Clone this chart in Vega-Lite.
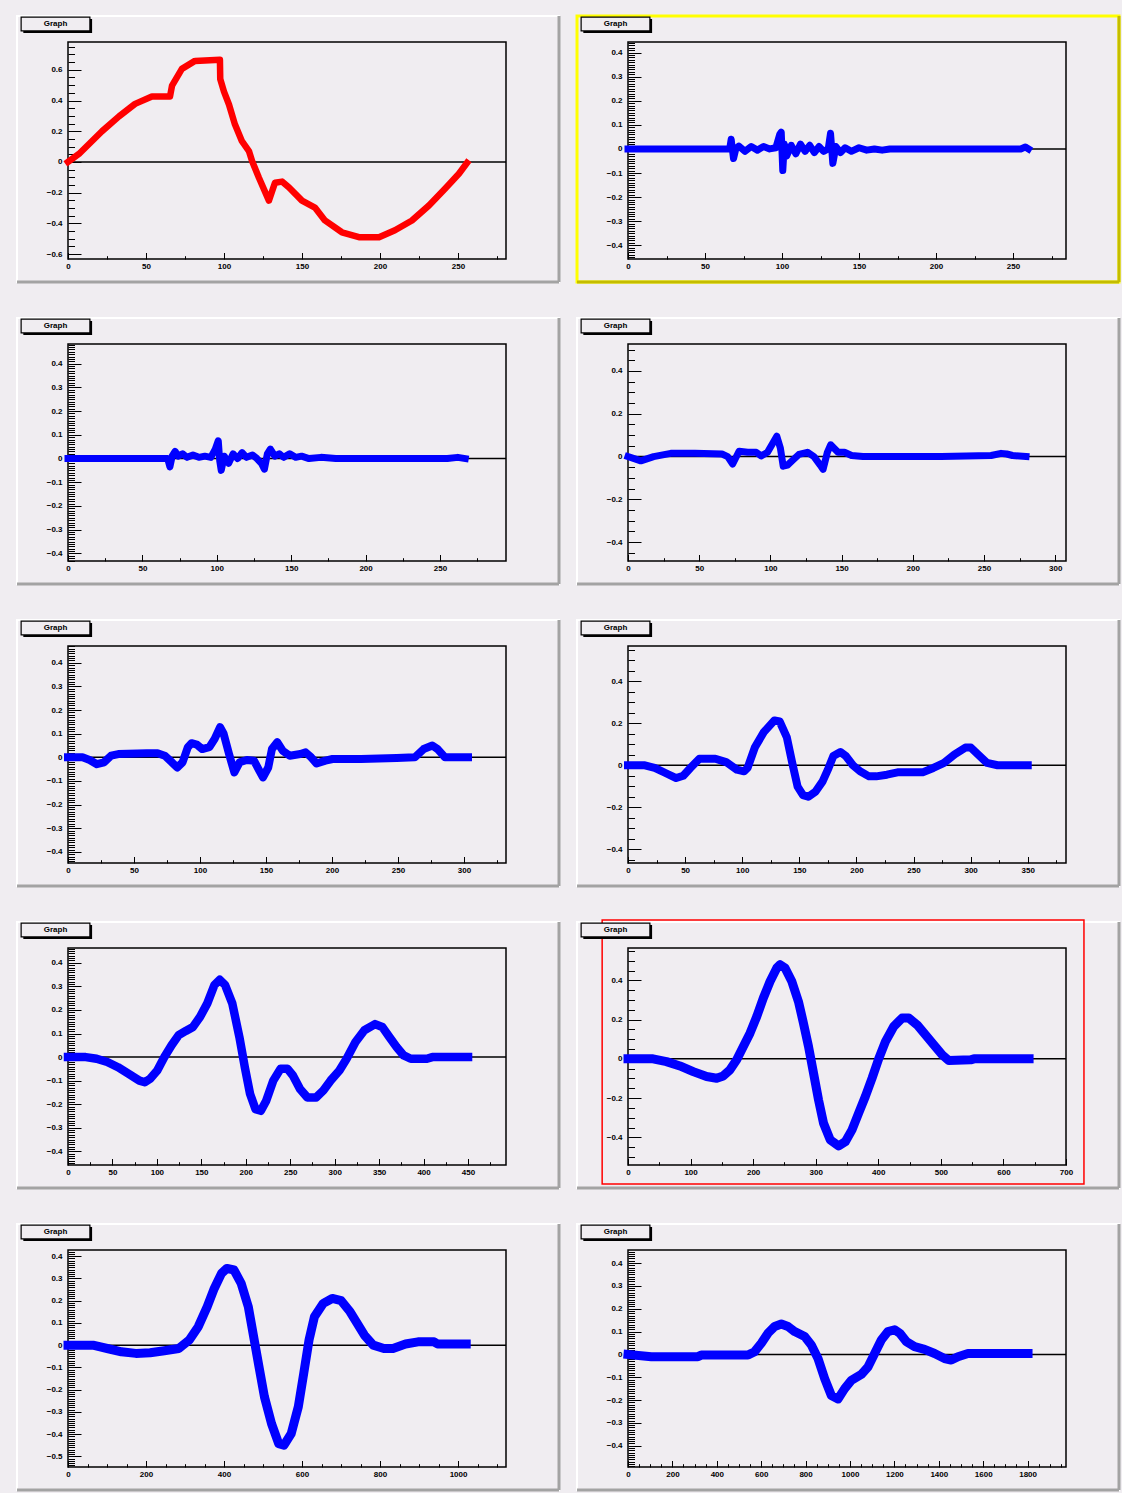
{
"$schema": "https://vega.github.io/schema/vega-lite/v6.json",
"background": "#f0edf1",
"padding": {"left": 14, "top": 13, "right": 0, "bottom": 0},
"columns": 2,
"bounds": "flush",
"spacing": {"row": 85, "column": 122},
"datasets": {
"p1": [{"x":0,"y":0},{"x":7,"y":0.052},{"x":21.8,"y":0.2},{"x":32.7,"y":0.297},{"x":43,"y":0.378},{"x":53.8,"y":0.426},{"x":65.4,"y":0.426},{"x":66.7,"y":0.497},{"x":73,"y":0.606},{"x":81.4,"y":0.658},{"x":97.4,"y":0.665},{"x":97.6,"y":0.54},{"x":100,"y":0.458},{"x":103.2,"y":0.374},{"x":107,"y":0.245},{"x":111.5,"y":0.135},{"x":116,"y":0.071},{"x":118,"y":0.006},{"x":122.4,"y":-0.103},{"x":128.8,"y":-0.252},{"x":132.7,"y":-0.135},{"x":137.2,"y":-0.128},{"x":141.7,"y":-0.166},{"x":150,"y":-0.252},{"x":158.3,"y":-0.297},{"x":164.7,"y":-0.381},{"x":175.6,"y":-0.458},{"x":186.5,"y":-0.49},{"x":199.4,"y":-0.49},{"x":209.6,"y":-0.445},{"x":220.5,"y":-0.381},{"x":231.4,"y":-0.284},{"x":241.7,"y":-0.174},{"x":250.6,"y":-0.077},{"x":255.8,"y":-0.006}],
"p2": [{"x":0,"y":0},{"x":30,"y":0},{"x":60,"y":0},{"x":66,"y":0},{"x":67,"y":0.04},{"x":68.5,"y":-0.04},{"x":70,"y":0},{"x":72,"y":0.012},{"x":76,"y":-0.01},{"x":80,"y":0.01},{"x":84,"y":-0.005},{"x":88,"y":0.01},{"x":92,"y":0},{"x":96,"y":0.005},{"x":98.5,"y":0.06},{"x":99.5,"y":0.07},{"x":100.5,"y":-0.09},{"x":101.5,"y":0.02},{"x":103,"y":-0.03},{"x":106,"y":0.015},{"x":109,"y":-0.02},{"x":112,"y":0.02},{"x":115,"y":-0.01},{"x":118,"y":0.015},{"x":121,"y":-0.015},{"x":124,"y":0.01},{"x":127,"y":-0.01},{"x":130,"y":0},{"x":131.5,"y":0.065},{"x":133,"y":-0.06},{"x":135,"y":0.01},{"x":138,"y":-0.015},{"x":141,"y":0.005},{"x":145,"y":-0.01},{"x":150,"y":0.005},{"x":155,"y":-0.005},{"x":160,"y":0},{"x":165,"y":-0.005},{"x":170,"y":0},{"x":200,"y":0},{"x":230,"y":0},{"x":255,"y":0},{"x":258,"y":0.008},{"x":260,"y":0}],
"p3": [{"x":0,"y":0},{"x":20,"y":0},{"x":50,"y":0},{"x":67,"y":0},{"x":68.5,"y":-0.035},{"x":70,"y":0.01},{"x":72,"y":0.03},{"x":74,"y":0.01},{"x":77,"y":0.02},{"x":80,"y":0.005},{"x":84,"y":0.015},{"x":88,"y":0.005},{"x":92,"y":0.01},{"x":96,"y":0.005},{"x":99,"y":0.04},{"x":101,"y":0.075},{"x":102,"y":-0.01},{"x":103,"y":-0.05},{"x":105,"y":0.01},{"x":108,"y":-0.02},{"x":111,"y":0.02},{"x":114,"y":0},{"x":117,"y":0.025},{"x":120,"y":0.005},{"x":124,"y":0.015},{"x":127,"y":0},{"x":130,"y":-0.02},{"x":132,"y":-0.045},{"x":134,"y":0.02},{"x":136,"y":0.04},{"x":139,"y":0.01},{"x":142,"y":0.02},{"x":145,"y":0.005},{"x":149,"y":0.02},{"x":153,"y":0.005},{"x":157,"y":0.01},{"x":162,"y":0},{"x":170,"y":0.005},{"x":180,"y":0},{"x":200,"y":0},{"x":230,"y":0},{"x":255,"y":0},{"x":262,"y":0.005},{"x":267,"y":0}],
"p4": [{"x":0,"y":0},{"x":9,"y":-0.02},{"x":18,"y":0},{"x":30,"y":0.015},{"x":47,"y":0.015},{"x":66,"y":0.012},{"x":70,"y":0},{"x":73.5,"y":-0.035},{"x":78,"y":0.025},{"x":84,"y":0.02},{"x":90,"y":0.02},{"x":93.5,"y":0.003},{"x":98,"y":0.02},{"x":104.5,"y":0.095},{"x":107,"y":0.04},{"x":109,"y":-0.045},{"x":112,"y":-0.04},{"x":116,"y":-0.015},{"x":120,"y":0.01},{"x":126,"y":0.02},{"x":130.6,"y":0},{"x":135,"y":-0.04},{"x":137,"y":-0.06},{"x":140,"y":0.02},{"x":142.3,"y":0.055},{"x":147.5,"y":0.02},{"x":152,"y":0.02},{"x":157,"y":0.005},{"x":165,"y":0},{"x":180,"y":0},{"x":220,"y":0},{"x":255,"y":0.005},{"x":262,"y":0.015},{"x":266,"y":0.012},{"x":270,"y":0.005},{"x":279.5,"y":0}],
"p5": [{"x":0,"y":0},{"x":11,"y":0},{"x":16.4,"y":-0.011},{"x":21.9,"y":-0.029},{"x":27.3,"y":-0.021},{"x":32.7,"y":0.007},{"x":38.1,"y":0.014},{"x":59.8,"y":0.017},{"x":67.9,"y":0.017},{"x":73.3,"y":0.007},{"x":78.7,"y":-0.021},{"x":82.7,"y":-0.043},{"x":86.8,"y":-0.021},{"x":90.8,"y":0.043},{"x":93.6,"y":0.06},{"x":97.6,"y":0.054},{"x":101.7,"y":0.035},{"x":107.1,"y":0.043},{"x":111.1,"y":0.078},{"x":115.2,"y":0.128},{"x":117.9,"y":0.1},{"x":122,"y":0.014},{"x":126,"y":-0.064},{"x":130,"y":-0.021},{"x":135.5,"y":-0.011},{"x":140.9,"y":-0.014},{"x":145,"y":-0.057},{"x":147.7,"y":-0.085},{"x":151.7,"y":-0.043},{"x":154.5,"y":0.035},{"x":158.5,"y":0.064},{"x":162.6,"y":0.028},{"x":168,"y":0.007},{"x":176,"y":0.014},{"x":180,"y":0.021},{"x":184.2,"y":0},{"x":188.3,"y":-0.026},{"x":195,"y":-0.014},{"x":200.4,"y":-0.007},{"x":222,"y":-0.007},{"x":249,"y":-0.003},{"x":262.7,"y":0},{"x":269.4,"y":0.035},{"x":276,"y":0.05},{"x":280,"y":0.035},{"x":285.6,"y":0},{"x":303,"y":0}],
"p6": [{"x":0,"y":0},{"x":14,"y":0},{"x":23.4,"y":-0.013},{"x":32.8,"y":-0.037},{"x":42.2,"y":-0.061},{"x":48.4,"y":-0.05},{"x":54.6,"y":-0.013},{"x":62.5,"y":0.031},{"x":76.5,"y":0.031},{"x":85.9,"y":0.015},{"x":95.3,"y":-0.021},{"x":101.6,"y":-0.029},{"x":104.7,"y":-0.013},{"x":111,"y":0.084},{"x":118.7,"y":0.156},{"x":128.2,"y":0.213},{"x":132.8,"y":0.208},{"x":139.1,"y":0.132},{"x":143.8,"y":0.011},{"x":148.5,"y":-0.102},{"x":153.2,"y":-0.142},{"x":157.9,"y":-0.15},{"x":164.1,"y":-0.126},{"x":170.4,"y":-0.077},{"x":175,"y":-0.021},{"x":179.8,"y":0.044},{"x":186,"y":0.063},{"x":190.7,"y":0.044},{"x":196.9,"y":0},{"x":203.2,"y":-0.029},{"x":211,"y":-0.053},{"x":217.3,"y":-0.053},{"x":226.7,"y":-0.045},{"x":236,"y":-0.034},{"x":258,"y":-0.034},{"x":267.3,"y":-0.013},{"x":276.7,"y":0.011},{"x":286,"y":0.052},{"x":295.4,"y":0.084},{"x":300.2,"y":0.084},{"x":306.4,"y":0.052},{"x":314.3,"y":0.011},{"x":323.6,"y":0},{"x":350,"y":0}],
"p7": [{"x":0,"y":0},{"x":20,"y":0},{"x":32.2,"y":-0.007},{"x":44.2,"y":-0.021},{"x":56.2,"y":-0.043},{"x":68.3,"y":-0.071},{"x":80.3,"y":-0.1},{"x":86.4,"y":-0.107},{"x":92.4,"y":-0.092},{"x":100.4,"y":-0.057},{"x":108.4,"y":0},{"x":116.5,"y":0.05},{"x":124.5,"y":0.093},{"x":132.5,"y":0.111},{"x":140.6,"y":0.128},{"x":148.6,"y":0.171},{"x":156.7,"y":0.228},{"x":164.7,"y":0.306},{"x":170.7,"y":0.328},{"x":176.7,"y":0.306},{"x":184.8,"y":0.228},{"x":192.8,"y":0.085},{"x":198.9,"y":-0.043},{"x":204.8,"y":-0.156},{"x":210.9,"y":-0.221},{"x":216.9,"y":-0.228},{"x":223,"y":-0.185},{"x":230.9,"y":-0.1},{"x":239,"y":-0.05},{"x":247,"y":-0.05},{"x":253,"y":-0.078},{"x":261,"y":-0.135},{"x":269.2,"y":-0.171},{"x":279.2,"y":-0.171},{"x":287.2,"y":-0.142},{"x":295.3,"y":-0.1},{"x":305.3,"y":-0.057},{"x":313.4,"y":-0.007},{"x":323.4,"y":0.064},{"x":333.4,"y":0.114},{"x":345.4,"y":0.14},{"x":353.5,"y":0.128},{"x":361.5,"y":0.085},{"x":369.6,"y":0.043},{"x":377.6,"y":0.007},{"x":385.6,"y":-0.007},{"x":403.7,"y":-0.007},{"x":409.8,"y":0},{"x":450,"y":0}],
"p8": [{"x":0,"y":0},{"x":40,"y":0},{"x":61.5,"y":-0.014},{"x":82.9,"y":-0.036},{"x":104.2,"y":-0.065},{"x":125.6,"y":-0.09},{"x":141.7,"y":-0.099},{"x":152.2,"y":-0.087},{"x":163,"y":-0.056},{"x":173.7,"y":-0.005},{"x":184.3,"y":0.063},{"x":195,"y":0.131},{"x":205.8,"y":0.216},{"x":216.3,"y":0.31},{"x":227,"y":0.394},{"x":237.8,"y":0.463},{"x":243,"y":0.48},{"x":251,"y":0.463},{"x":261.9,"y":0.394},{"x":272.4,"y":0.292},{"x":280.4,"y":0.182},{"x":288.5,"y":0.063},{"x":296.5,"y":-0.073},{"x":304.5,"y":-0.209},{"x":312.5,"y":-0.328},{"x":323.2,"y":-0.413},{"x":336.5,"y":-0.444},{"x":347.3,"y":-0.422},{"x":358,"y":-0.362},{"x":368.6,"y":-0.277},{"x":379.3,"y":-0.192},{"x":390,"y":-0.099},{"x":400.6,"y":0},{"x":411.4,"y":0.088},{"x":424.7,"y":0.165},{"x":438,"y":0.208},{"x":448.7,"y":0.208},{"x":462.2,"y":0.173},{"x":475.5,"y":0.122},{"x":488.8,"y":0.071},{"x":502.2,"y":0.02},{"x":512.8,"y":-0.009},{"x":547.6,"y":-0.005},{"x":552.9,"y":0},{"x":641,"y":0}],
"p9": [{"x":0,"y":0},{"x":64,"y":0},{"x":100.5,"y":-0.015},{"x":137,"y":-0.03},{"x":174,"y":-0.037},{"x":210.5,"y":-0.034},{"x":247,"y":-0.025},{"x":284,"y":-0.015},{"x":311,"y":0.023},{"x":334,"y":0.083},{"x":357,"y":0.173},{"x":375,"y":0.255},{"x":393.6,"y":0.323},{"x":407.4,"y":0.345},{"x":425.7,"y":0.338},{"x":444,"y":0.278},{"x":462.3,"y":0.173},{"x":476,"y":0.038},{"x":489.7,"y":-0.097},{"x":503.6,"y":-0.232},{"x":521.8,"y":-0.353},{"x":540.3,"y":-0.443},{"x":553.8,"y":-0.45},{"x":572.3,"y":-0.398},{"x":590.5,"y":-0.277},{"x":604.4,"y":-0.127},{"x":618,"y":0.023},{"x":631.8,"y":0.128},{"x":654.6,"y":0.188},{"x":677.4,"y":0.21},{"x":700.5,"y":0.2},{"x":723.3,"y":0.15},{"x":741.5,"y":0.098},{"x":760,"y":0.045},{"x":782.8,"y":0},{"x":810,"y":-0.015},{"x":833.3,"y":-0.015},{"x":865.4,"y":0.005},{"x":897.4,"y":0.015},{"x":938.5,"y":0.015},{"x":947.7,"y":0.005},{"x":1021,"y":0.005}],
"p10": [{"x":0,"y":0},{"x":105,"y":-0.01},{"x":315,"y":-0.01},{"x":330,"y":-0.003},{"x":540.5,"y":-0.003},{"x":570.5,"y":0.012},{"x":600.5,"y":0.049},{"x":630.6,"y":0.093},{"x":660.6,"y":0.122},{"x":690.7,"y":0.133},{"x":720.7,"y":0.122},{"x":750.8,"y":0.1},{"x":795.8,"y":0.078},{"x":825.8,"y":0.041},{"x":855.9,"y":-0.018},{"x":885.9,"y":-0.106},{"x":916,"y":-0.18},{"x":946,"y":-0.195},{"x":976,"y":-0.15},{"x":1006,"y":-0.114},{"x":1051,"y":-0.088},{"x":1081,"y":-0.055},{"x":1111,"y":0.004},{"x":1141,"y":0.063},{"x":1171,"y":0.1},{"x":1201,"y":0.108},{"x":1224,"y":0.093},{"x":1254,"y":0.056},{"x":1291,"y":0.034},{"x":1336,"y":0.022},{"x":1381,"y":0.004},{"x":1426,"y":-0.018},{"x":1456,"y":-0.025},{"x":1486.5,"y":-0.01},{"x":1531.5,"y":0.004},{"x":1802,"y":0.004}]
},
"concat": [
{"width": 438, "height": 217, "resolve": {"scale": {"x": "independent", "y": "independent"}},
 "layer": [
  {"data": {"values": [{}]}, "layer": [
   {"mark": {"type": "rect", "filled": false, "stroke": "#ffffff", "strokeWidth": 2}, "encoding": {"x": {"datum": -0.1164, "type": "quantitative", "scale": {"domain": [0, 1], "nice": false}, "axis": null}, "x2": {"datum": 1.121}, "y": {"datum": -0.106, "type": "quantitative", "scale": {"domain": [0, 1], "nice": false}, "axis": null}, "y2": {"datum": 1.12}}},
   {"mark": {"type": "rule", "stroke": "#a3a3a3", "strokeWidth": 3}, "encoding": {"x": {"datum": -0.1164, "type": "quantitative"}, "x2": {"datum": 1.121}, "y": {"datum": -0.106, "type": "quantitative"}}},
   {"mark": {"type": "rule", "stroke": "#a3a3a3", "strokeWidth": 3}, "encoding": {"x": {"datum": 1.121, "type": "quantitative"}, "y": {"datum": -0.106, "type": "quantitative"}, "y2": {"datum": 1.12}}},
   {"mark": {"type": "rect", "fill": "black"}, "encoding": {"x": {"datum": -0.102, "type": "quantitative"}, "x2": {"datum": 0.055}, "y": {"datum": 1.042, "type": "quantitative"}, "y2": {"datum": 1.106}}},
   {"mark": {"type": "rect", "fill": "#f0edf1", "stroke": "black", "strokeWidth": 1.2}, "encoding": {"x": {"datum": -0.107, "type": "quantitative"}, "x2": {"datum": 0.05}, "y": {"datum": 1.051, "type": "quantitative"}, "y2": {"datum": 1.115}}},
   {"mark": {"type": "text", "text": "Graph", "font": "Liberation Sans", "fontSize": 8, "fontWeight": "bold", "align": "center", "baseline": "middle", "color": "black"}, "encoding": {"x": {"datum": -0.0285, "type": "quantitative"}, "y": {"datum": 1.083, "type": "quantitative"}}}
  ]},
  {"layer": [
   {"data": {"values": [{}]}, "mark": {"type": "rule", "color": "black", "strokeWidth": 1.5}, "encoding": {"y": {"datum": 0, "type": "quantitative"}}},
   {"data": {"name": "p1"}, "mark": {"type": "line", "color": "#ff0000", "strokeWidth": 6.5, "strokeCap": "square", "strokeJoin": "round"},
    "encoding": {
     "x": {"field": "x", "type": "quantitative", "scale": {"domain": [0, 280.8], "nice": false}, "axis": {"orient": "bottom", "title": null, "values": [0,25,50,75,100,125,150,175,200,225,250,275], "labelExpr": "datum.value % 50 === 0 ? format(datum.value, 'd') : ''", "tickSize": {"condition": {"test": "datum.value % 50 === 0", "value": -6.5}, "value": -3.3}}},
     "y": {"field": "y", "type": "quantitative", "scale": {"domain": [-0.632, 0.781], "nice": false, "zero": false}, "axis": {"orient": "left", "title": null, "tickCount": 28, "labelExpr": "abs(round(datum.value*100)) % 20 === 0 ? format(datum.value, '.1~f') : ''", "tickSize": {"condition": {"test": "abs(round(datum.value*100)) % 20 === 0", "value": -13}, "value": -6.5}}}
    }}
  ]}
 ]},
{"width": 438, "height": 217, "resolve": {"scale": {"x": "independent", "y": "independent"}},
 "layer": [
  {"data": {"values": [{}]}, "layer": [
   {"mark": {"type": "rect", "filled": false, "stroke": "#ffff00", "strokeWidth": 3}, "encoding": {"x": {"datum": -0.1164, "type": "quantitative", "scale": {"domain": [0, 1], "nice": false}, "axis": null}, "x2": {"datum": 1.121}, "y": {"datum": -0.106, "type": "quantitative", "scale": {"domain": [0, 1], "nice": false}, "axis": null}, "y2": {"datum": 1.12}}},
   {"mark": {"type": "rule", "stroke": "#c4bc00", "strokeWidth": 3}, "encoding": {"x": {"datum": -0.1164, "type": "quantitative"}, "x2": {"datum": 1.121}, "y": {"datum": -0.106, "type": "quantitative"}}},
   {"mark": {"type": "rule", "stroke": "#c4bc00", "strokeWidth": 3}, "encoding": {"x": {"datum": 1.121, "type": "quantitative"}, "y": {"datum": -0.106, "type": "quantitative"}, "y2": {"datum": 1.12}}},
   {"mark": {"type": "rect", "fill": "black"}, "encoding": {"x": {"datum": -0.102, "type": "quantitative"}, "x2": {"datum": 0.055}, "y": {"datum": 1.042, "type": "quantitative"}, "y2": {"datum": 1.106}}},
   {"mark": {"type": "rect", "fill": "#f0edf1", "stroke": "black", "strokeWidth": 1.2}, "encoding": {"x": {"datum": -0.107, "type": "quantitative"}, "x2": {"datum": 0.05}, "y": {"datum": 1.051, "type": "quantitative"}, "y2": {"datum": 1.115}}},
   {"mark": {"type": "text", "text": "Graph", "font": "Liberation Sans", "fontSize": 8, "fontWeight": "bold", "align": "center", "baseline": "middle", "color": "black"}, "encoding": {"x": {"datum": -0.0285, "type": "quantitative"}, "y": {"datum": 1.083, "type": "quantitative"}}}
  ]},
  {"layer": [
   {"data": {"values": [{}]}, "mark": {"type": "rule", "color": "black", "strokeWidth": 1.5}, "encoding": {"y": {"datum": 0, "type": "quantitative"}}},
   {"data": {"name": "p2"}, "mark": {"type": "line", "color": "#0000ff", "strokeWidth": 7, "strokeCap": "square", "strokeJoin": "round"},
    "encoding": {
     "x": {"field": "x", "type": "quantitative", "scale": {"domain": [0, 284.4], "nice": false}, "axis": {"orient": "bottom", "title": null, "values": [0,25,50,75,100,125,150,175,200,225,250,275], "labelExpr": "datum.value % 50 === 0 ? format(datum.value, 'd') : ''", "tickSize": {"condition": {"test": "datum.value % 50 === 0", "value": -6.5}, "value": -3.3}}},
     "y": {"field": "y", "type": "quantitative", "scale": {"domain": [-0.457, 0.444], "nice": false, "zero": false}, "axis": {"orient": "left", "title": null, "tickCount": 90, "labelExpr": "abs(round(datum.value*100)) % 10 === 0 ? format(datum.value, '.1~f') : ''", "tickSize": {"condition": {"test": "abs(round(datum.value*100)) % 10 === 0", "value": -13}, "value": -6.5}}}
    }}
  ]}
 ]},
{"width": 438, "height": 217, "resolve": {"scale": {"x": "independent", "y": "independent"}},
 "layer": [
  {"data": {"values": [{}]}, "layer": [
   {"mark": {"type": "rect", "filled": false, "stroke": "#ffffff", "strokeWidth": 2}, "encoding": {"x": {"datum": -0.1164, "type": "quantitative", "scale": {"domain": [0, 1], "nice": false}, "axis": null}, "x2": {"datum": 1.121}, "y": {"datum": -0.106, "type": "quantitative", "scale": {"domain": [0, 1], "nice": false}, "axis": null}, "y2": {"datum": 1.12}}},
   {"mark": {"type": "rule", "stroke": "#a3a3a3", "strokeWidth": 3}, "encoding": {"x": {"datum": -0.1164, "type": "quantitative"}, "x2": {"datum": 1.121}, "y": {"datum": -0.106, "type": "quantitative"}}},
   {"mark": {"type": "rule", "stroke": "#a3a3a3", "strokeWidth": 3}, "encoding": {"x": {"datum": 1.121, "type": "quantitative"}, "y": {"datum": -0.106, "type": "quantitative"}, "y2": {"datum": 1.12}}},
   {"mark": {"type": "rect", "fill": "black"}, "encoding": {"x": {"datum": -0.102, "type": "quantitative"}, "x2": {"datum": 0.055}, "y": {"datum": 1.042, "type": "quantitative"}, "y2": {"datum": 1.106}}},
   {"mark": {"type": "rect", "fill": "#f0edf1", "stroke": "black", "strokeWidth": 1.2}, "encoding": {"x": {"datum": -0.107, "type": "quantitative"}, "x2": {"datum": 0.05}, "y": {"datum": 1.051, "type": "quantitative"}, "y2": {"datum": 1.115}}},
   {"mark": {"type": "text", "text": "Graph", "font": "Liberation Sans", "fontSize": 8, "fontWeight": "bold", "align": "center", "baseline": "middle", "color": "black"}, "encoding": {"x": {"datum": -0.0285, "type": "quantitative"}, "y": {"datum": 1.083, "type": "quantitative"}}}
  ]},
  {"layer": [
   {"data": {"values": [{}]}, "mark": {"type": "rule", "color": "black", "strokeWidth": 1.5}, "encoding": {"y": {"datum": 0, "type": "quantitative"}}},
   {"data": {"name": "p3"}, "mark": {"type": "line", "color": "#0000ff", "strokeWidth": 7, "strokeCap": "square", "strokeJoin": "round"},
    "encoding": {
     "x": {"field": "x", "type": "quantitative", "scale": {"domain": [0, 294.4], "nice": false}, "axis": {"orient": "bottom", "title": null, "values": [0,25,50,75,100,125,150,175,200,225,250,275], "labelExpr": "datum.value % 50 === 0 ? format(datum.value, 'd') : ''", "tickSize": {"condition": {"test": "datum.value % 50 === 0", "value": -6.5}, "value": -3.3}}},
     "y": {"field": "y", "type": "quantitative", "scale": {"domain": [-0.432, 0.483], "nice": false, "zero": false}, "axis": {"orient": "left", "title": null, "tickCount": 91, "labelExpr": "abs(round(datum.value*100)) % 10 === 0 ? format(datum.value, '.1~f') : ''", "tickSize": {"condition": {"test": "abs(round(datum.value*100)) % 10 === 0", "value": -13}, "value": -6.5}}}
    }}
  ]}
 ]},
{"width": 438, "height": 217, "resolve": {"scale": {"x": "independent", "y": "independent"}},
 "layer": [
  {"data": {"values": [{}]}, "layer": [
   {"mark": {"type": "rect", "filled": false, "stroke": "#ffffff", "strokeWidth": 2}, "encoding": {"x": {"datum": -0.1164, "type": "quantitative", "scale": {"domain": [0, 1], "nice": false}, "axis": null}, "x2": {"datum": 1.121}, "y": {"datum": -0.106, "type": "quantitative", "scale": {"domain": [0, 1], "nice": false}, "axis": null}, "y2": {"datum": 1.12}}},
   {"mark": {"type": "rule", "stroke": "#a3a3a3", "strokeWidth": 3}, "encoding": {"x": {"datum": -0.1164, "type": "quantitative"}, "x2": {"datum": 1.121}, "y": {"datum": -0.106, "type": "quantitative"}}},
   {"mark": {"type": "rule", "stroke": "#a3a3a3", "strokeWidth": 3}, "encoding": {"x": {"datum": 1.121, "type": "quantitative"}, "y": {"datum": -0.106, "type": "quantitative"}, "y2": {"datum": 1.12}}},
   {"mark": {"type": "rect", "fill": "black"}, "encoding": {"x": {"datum": -0.102, "type": "quantitative"}, "x2": {"datum": 0.055}, "y": {"datum": 1.042, "type": "quantitative"}, "y2": {"datum": 1.106}}},
   {"mark": {"type": "rect", "fill": "#f0edf1", "stroke": "black", "strokeWidth": 1.2}, "encoding": {"x": {"datum": -0.107, "type": "quantitative"}, "x2": {"datum": 0.05}, "y": {"datum": 1.051, "type": "quantitative"}, "y2": {"datum": 1.115}}},
   {"mark": {"type": "text", "text": "Graph", "font": "Liberation Sans", "fontSize": 8, "fontWeight": "bold", "align": "center", "baseline": "middle", "color": "black"}, "encoding": {"x": {"datum": -0.0285, "type": "quantitative"}, "y": {"datum": 1.083, "type": "quantitative"}}}
  ]},
  {"layer": [
   {"data": {"values": [{}]}, "mark": {"type": "rule", "color": "black", "strokeWidth": 1.5}, "encoding": {"y": {"datum": 0, "type": "quantitative"}}},
   {"data": {"name": "p4"}, "mark": {"type": "line", "color": "#0000ff", "strokeWidth": 7, "strokeCap": "square", "strokeJoin": "round"},
    "encoding": {
     "x": {"field": "x", "type": "quantitative", "scale": {"domain": [0, 307.6], "nice": false}, "axis": {"orient": "bottom", "title": null, "values": [0,25,50,75,100,125,150,175,200,225,250,275,300], "labelExpr": "datum.value % 50 === 0 ? format(datum.value, 'd') : ''", "tickSize": {"condition": {"test": "datum.value % 50 === 0", "value": -6.5}, "value": -3.3}}},
     "y": {"field": "y", "type": "quantitative", "scale": {"domain": [-0.488, 0.526], "nice": false, "zero": false}, "axis": {"orient": "left", "title": null, "tickCount": 20, "labelExpr": "abs(round(datum.value*100)) % 20 === 0 ? format(datum.value, '.1~f') : ''", "tickSize": {"condition": {"test": "abs(round(datum.value*100)) % 20 === 0", "value": -13}, "value": -6.5}}}
    }}
  ]}
 ]},
{"width": 438, "height": 217, "resolve": {"scale": {"x": "independent", "y": "independent"}},
 "layer": [
  {"data": {"values": [{}]}, "layer": [
   {"mark": {"type": "rect", "filled": false, "stroke": "#ffffff", "strokeWidth": 2}, "encoding": {"x": {"datum": -0.1164, "type": "quantitative", "scale": {"domain": [0, 1], "nice": false}, "axis": null}, "x2": {"datum": 1.121}, "y": {"datum": -0.106, "type": "quantitative", "scale": {"domain": [0, 1], "nice": false}, "axis": null}, "y2": {"datum": 1.12}}},
   {"mark": {"type": "rule", "stroke": "#a3a3a3", "strokeWidth": 3}, "encoding": {"x": {"datum": -0.1164, "type": "quantitative"}, "x2": {"datum": 1.121}, "y": {"datum": -0.106, "type": "quantitative"}}},
   {"mark": {"type": "rule", "stroke": "#a3a3a3", "strokeWidth": 3}, "encoding": {"x": {"datum": 1.121, "type": "quantitative"}, "y": {"datum": -0.106, "type": "quantitative"}, "y2": {"datum": 1.12}}},
   {"mark": {"type": "rect", "fill": "black"}, "encoding": {"x": {"datum": -0.102, "type": "quantitative"}, "x2": {"datum": 0.055}, "y": {"datum": 1.042, "type": "quantitative"}, "y2": {"datum": 1.106}}},
   {"mark": {"type": "rect", "fill": "#f0edf1", "stroke": "black", "strokeWidth": 1.2}, "encoding": {"x": {"datum": -0.107, "type": "quantitative"}, "x2": {"datum": 0.05}, "y": {"datum": 1.051, "type": "quantitative"}, "y2": {"datum": 1.115}}},
   {"mark": {"type": "text", "text": "Graph", "font": "Liberation Sans", "fontSize": 8, "fontWeight": "bold", "align": "center", "baseline": "middle", "color": "black"}, "encoding": {"x": {"datum": -0.0285, "type": "quantitative"}, "y": {"datum": 1.083, "type": "quantitative"}}}
  ]},
  {"layer": [
   {"data": {"values": [{}]}, "mark": {"type": "rule", "color": "black", "strokeWidth": 1.5}, "encoding": {"y": {"datum": 0, "type": "quantitative"}}},
   {"data": {"name": "p5"}, "mark": {"type": "line", "color": "#0000ff", "strokeWidth": 8, "strokeCap": "square", "strokeJoin": "round"},
    "encoding": {
     "x": {"field": "x", "type": "quantitative", "scale": {"domain": [0, 331.8], "nice": false}, "axis": {"orient": "bottom", "title": null, "values": [0,25,50,75,100,125,150,175,200,225,250,275,300,325], "labelExpr": "datum.value % 50 === 0 ? format(datum.value, 'd') : ''", "tickSize": {"condition": {"test": "datum.value % 50 === 0", "value": -6.5}, "value": -3.3}}},
     "y": {"field": "y", "type": "quantitative", "scale": {"domain": [-0.447, 0.471], "nice": false, "zero": false}, "axis": {"orient": "left", "title": null, "tickCount": 91, "labelExpr": "abs(round(datum.value*100)) % 10 === 0 ? format(datum.value, '.1~f') : ''", "tickSize": {"condition": {"test": "abs(round(datum.value*100)) % 10 === 0", "value": -13}, "value": -6.5}}}
    }}
  ]}
 ]},
{"width": 438, "height": 217, "resolve": {"scale": {"x": "independent", "y": "independent"}},
 "layer": [
  {"data": {"values": [{}]}, "layer": [
   {"mark": {"type": "rect", "filled": false, "stroke": "#ffffff", "strokeWidth": 2}, "encoding": {"x": {"datum": -0.1164, "type": "quantitative", "scale": {"domain": [0, 1], "nice": false}, "axis": null}, "x2": {"datum": 1.121}, "y": {"datum": -0.106, "type": "quantitative", "scale": {"domain": [0, 1], "nice": false}, "axis": null}, "y2": {"datum": 1.12}}},
   {"mark": {"type": "rule", "stroke": "#a3a3a3", "strokeWidth": 3}, "encoding": {"x": {"datum": -0.1164, "type": "quantitative"}, "x2": {"datum": 1.121}, "y": {"datum": -0.106, "type": "quantitative"}}},
   {"mark": {"type": "rule", "stroke": "#a3a3a3", "strokeWidth": 3}, "encoding": {"x": {"datum": 1.121, "type": "quantitative"}, "y": {"datum": -0.106, "type": "quantitative"}, "y2": {"datum": 1.12}}},
   {"mark": {"type": "rect", "fill": "black"}, "encoding": {"x": {"datum": -0.102, "type": "quantitative"}, "x2": {"datum": 0.055}, "y": {"datum": 1.042, "type": "quantitative"}, "y2": {"datum": 1.106}}},
   {"mark": {"type": "rect", "fill": "#f0edf1", "stroke": "black", "strokeWidth": 1.2}, "encoding": {"x": {"datum": -0.107, "type": "quantitative"}, "x2": {"datum": 0.05}, "y": {"datum": 1.051, "type": "quantitative"}, "y2": {"datum": 1.115}}},
   {"mark": {"type": "text", "text": "Graph", "font": "Liberation Sans", "fontSize": 8, "fontWeight": "bold", "align": "center", "baseline": "middle", "color": "black"}, "encoding": {"x": {"datum": -0.0285, "type": "quantitative"}, "y": {"datum": 1.083, "type": "quantitative"}}}
  ]},
  {"layer": [
   {"data": {"values": [{}]}, "mark": {"type": "rule", "color": "black", "strokeWidth": 1.5}, "encoding": {"y": {"datum": 0, "type": "quantitative"}}},
   {"data": {"name": "p6"}, "mark": {"type": "line", "color": "#0000ff", "strokeWidth": 8, "strokeCap": "square", "strokeJoin": "round"},
    "encoding": {
     "x": {"field": "x", "type": "quantitative", "scale": {"domain": [0, 383.5], "nice": false}, "axis": {"orient": "bottom", "title": null, "values": [0,25,50,75,100,125,150,175,200,225,250,275,300,325,350,375], "labelExpr": "datum.value % 50 === 0 ? format(datum.value, 'd') : ''", "tickSize": {"condition": {"test": "datum.value % 50 === 0", "value": -6.5}, "value": -3.3}}},
     "y": {"field": "y", "type": "quantitative", "scale": {"domain": [-0.465, 0.567], "nice": false, "zero": false}, "axis": {"orient": "left", "title": null, "tickCount": 20, "labelExpr": "abs(round(datum.value*100)) % 20 === 0 ? format(datum.value, '.1~f') : ''", "tickSize": {"condition": {"test": "abs(round(datum.value*100)) % 20 === 0", "value": -13}, "value": -6.5}}}
    }}
  ]}
 ]},
{"width": 438, "height": 217, "resolve": {"scale": {"x": "independent", "y": "independent"}},
 "layer": [
  {"data": {"values": [{}]}, "layer": [
   {"mark": {"type": "rect", "filled": false, "stroke": "#ffffff", "strokeWidth": 2}, "encoding": {"x": {"datum": -0.1164, "type": "quantitative", "scale": {"domain": [0, 1], "nice": false}, "axis": null}, "x2": {"datum": 1.121}, "y": {"datum": -0.106, "type": "quantitative", "scale": {"domain": [0, 1], "nice": false}, "axis": null}, "y2": {"datum": 1.12}}},
   {"mark": {"type": "rule", "stroke": "#a3a3a3", "strokeWidth": 3}, "encoding": {"x": {"datum": -0.1164, "type": "quantitative"}, "x2": {"datum": 1.121}, "y": {"datum": -0.106, "type": "quantitative"}}},
   {"mark": {"type": "rule", "stroke": "#a3a3a3", "strokeWidth": 3}, "encoding": {"x": {"datum": 1.121, "type": "quantitative"}, "y": {"datum": -0.106, "type": "quantitative"}, "y2": {"datum": 1.12}}},
   {"mark": {"type": "rect", "fill": "black"}, "encoding": {"x": {"datum": -0.102, "type": "quantitative"}, "x2": {"datum": 0.055}, "y": {"datum": 1.042, "type": "quantitative"}, "y2": {"datum": 1.106}}},
   {"mark": {"type": "rect", "fill": "#f0edf1", "stroke": "black", "strokeWidth": 1.2}, "encoding": {"x": {"datum": -0.107, "type": "quantitative"}, "x2": {"datum": 0.05}, "y": {"datum": 1.051, "type": "quantitative"}, "y2": {"datum": 1.115}}},
   {"mark": {"type": "text", "text": "Graph", "font": "Liberation Sans", "fontSize": 8, "fontWeight": "bold", "align": "center", "baseline": "middle", "color": "black"}, "encoding": {"x": {"datum": -0.0285, "type": "quantitative"}, "y": {"datum": 1.083, "type": "quantitative"}}}
  ]},
  {"layer": [
   {"data": {"values": [{}]}, "mark": {"type": "rule", "color": "black", "strokeWidth": 1.5}, "encoding": {"y": {"datum": 0, "type": "quantitative"}}},
   {"data": {"name": "p7"}, "mark": {"type": "line", "color": "#0000ff", "strokeWidth": 8.5, "strokeCap": "square", "strokeJoin": "round"},
    "encoding": {
     "x": {"field": "x", "type": "quantitative", "scale": {"domain": [0, 492.7], "nice": false}, "axis": {"orient": "bottom", "title": null, "values": [0,25,50,75,100,125,150,175,200,225,250,275,300,325,350,375,400,425,450,475], "labelExpr": "datum.value % 50 === 0 ? format(datum.value, 'd') : ''", "tickSize": {"condition": {"test": "datum.value % 50 === 0", "value": -6.5}, "value": -3.3}}},
     "y": {"field": "y", "type": "quantitative", "scale": {"domain": [-0.458, 0.463], "nice": false, "zero": false}, "axis": {"orient": "left", "title": null, "tickCount": 92, "labelExpr": "abs(round(datum.value*100)) % 10 === 0 ? format(datum.value, '.1~f') : ''", "tickSize": {"condition": {"test": "abs(round(datum.value*100)) % 10 === 0", "value": -13}, "value": -6.5}}}
    }}
  ]}
 ]},
{"width": 438, "height": 217, "resolve": {"scale": {"x": "independent", "y": "independent"}},
 "layer": [
  {"data": {"values": [{}]}, "layer": [
   {"mark": {"type": "rect", "filled": false, "stroke": "#ffffff", "strokeWidth": 2}, "encoding": {"x": {"datum": -0.1164, "type": "quantitative", "scale": {"domain": [0, 1], "nice": false}, "axis": null}, "x2": {"datum": 1.121}, "y": {"datum": -0.106, "type": "quantitative", "scale": {"domain": [0, 1], "nice": false}, "axis": null}, "y2": {"datum": 1.12}}},
   {"mark": {"type": "rule", "stroke": "#a3a3a3", "strokeWidth": 3}, "encoding": {"x": {"datum": -0.1164, "type": "quantitative"}, "x2": {"datum": 1.121}, "y": {"datum": -0.106, "type": "quantitative"}}},
   {"mark": {"type": "rule", "stroke": "#a3a3a3", "strokeWidth": 3}, "encoding": {"x": {"datum": 1.121, "type": "quantitative"}, "y": {"datum": -0.106, "type": "quantitative"}, "y2": {"datum": 1.12}}},
   {"mark": {"type": "rect", "filled": false, "stroke": "#ff0000", "strokeWidth": 1.5}, "encoding": {"x": {"datum": -0.059, "type": "quantitative"}, "x2": {"datum": 1.041}, "y": {"datum": -0.0876, "type": "quantitative"}, "y2": {"datum": 1.129}}},
   {"mark": {"type": "rect", "fill": "black"}, "encoding": {"x": {"datum": -0.102, "type": "quantitative"}, "x2": {"datum": 0.055}, "y": {"datum": 1.042, "type": "quantitative"}, "y2": {"datum": 1.106}}},
   {"mark": {"type": "rect", "fill": "#f0edf1", "stroke": "black", "strokeWidth": 1.2}, "encoding": {"x": {"datum": -0.107, "type": "quantitative"}, "x2": {"datum": 0.05}, "y": {"datum": 1.051, "type": "quantitative"}, "y2": {"datum": 1.115}}},
   {"mark": {"type": "text", "text": "Graph", "font": "Liberation Sans", "fontSize": 8, "fontWeight": "bold", "align": "center", "baseline": "middle", "color": "black"}, "encoding": {"x": {"datum": -0.0285, "type": "quantitative"}, "y": {"datum": 1.083, "type": "quantitative"}}}
  ]},
  {"layer": [
   {"data": {"values": [{}]}, "mark": {"type": "rule", "color": "black", "strokeWidth": 1.5}, "encoding": {"y": {"datum": 0, "type": "quantitative"}}},
   {"data": {"name": "p8"}, "mark": {"type": "line", "color": "#0000ff", "strokeWidth": 9, "strokeCap": "square", "strokeJoin": "round"},
    "encoding": {
     "x": {"field": "x", "type": "quantitative", "scale": {"domain": [0, 700], "nice": false}, "axis": {"orient": "bottom", "title": null, "values": [0,50,100,150,200,250,300,350,400,450,500,550,600,650,700], "labelExpr": "datum.value % 100 === 0 ? format(datum.value, 'd') : ''", "tickSize": {"condition": {"test": "datum.value % 100 === 0", "value": -6.5}, "value": -3.3}}},
     "y": {"field": "y", "type": "quantitative", "scale": {"domain": [-0.541, 0.565], "nice": false, "zero": false}, "axis": {"orient": "left", "title": null, "tickCount": 22, "labelExpr": "abs(round(datum.value*100)) % 20 === 0 ? format(datum.value, '.1~f') : ''", "tickSize": {"condition": {"test": "abs(round(datum.value*100)) % 20 === 0", "value": -13}, "value": -6.5}}}
    }}
  ]}
 ]},
{"width": 438, "height": 217, "resolve": {"scale": {"x": "independent", "y": "independent"}},
 "layer": [
  {"data": {"values": [{}]}, "layer": [
   {"mark": {"type": "rect", "filled": false, "stroke": "#ffffff", "strokeWidth": 2}, "encoding": {"x": {"datum": -0.1164, "type": "quantitative", "scale": {"domain": [0, 1], "nice": false}, "axis": null}, "x2": {"datum": 1.121}, "y": {"datum": -0.106, "type": "quantitative", "scale": {"domain": [0, 1], "nice": false}, "axis": null}, "y2": {"datum": 1.12}}},
   {"mark": {"type": "rule", "stroke": "#a3a3a3", "strokeWidth": 3}, "encoding": {"x": {"datum": -0.1164, "type": "quantitative"}, "x2": {"datum": 1.121}, "y": {"datum": -0.106, "type": "quantitative"}}},
   {"mark": {"type": "rule", "stroke": "#a3a3a3", "strokeWidth": 3}, "encoding": {"x": {"datum": 1.121, "type": "quantitative"}, "y": {"datum": -0.106, "type": "quantitative"}, "y2": {"datum": 1.12}}},
   {"mark": {"type": "rect", "fill": "black"}, "encoding": {"x": {"datum": -0.102, "type": "quantitative"}, "x2": {"datum": 0.055}, "y": {"datum": 1.042, "type": "quantitative"}, "y2": {"datum": 1.106}}},
   {"mark": {"type": "rect", "fill": "#f0edf1", "stroke": "black", "strokeWidth": 1.2}, "encoding": {"x": {"datum": -0.107, "type": "quantitative"}, "x2": {"datum": 0.05}, "y": {"datum": 1.051, "type": "quantitative"}, "y2": {"datum": 1.115}}},
   {"mark": {"type": "text", "text": "Graph", "font": "Liberation Sans", "fontSize": 8, "fontWeight": "bold", "align": "center", "baseline": "middle", "color": "black"}, "encoding": {"x": {"datum": -0.0285, "type": "quantitative"}, "y": {"datum": 1.083, "type": "quantitative"}}}
  ]},
  {"layer": [
   {"data": {"values": [{}]}, "mark": {"type": "rule", "color": "black", "strokeWidth": 1.5}, "encoding": {"y": {"datum": 0, "type": "quantitative"}}},
   {"data": {"name": "p9"}, "mark": {"type": "line", "color": "#0000ff", "strokeWidth": 9, "strokeCap": "square", "strokeJoin": "round"},
    "encoding": {
     "x": {"field": "x", "type": "quantitative", "scale": {"domain": [0, 1123], "nice": false}, "axis": {"orient": "bottom", "title": null, "values": [0,50,100,150,200,250,300,350,400,450,500,550,600,650,700,750,800,850,900,950,1000,1050,1100], "labelExpr": "datum.value % 200 === 0 ? format(datum.value, 'd') : ''", "tickSize": {"condition": {"test": "datum.value % 200 === 0", "value": -6.5}, "value": -3.3}}},
     "y": {"field": "y", "type": "quantitative", "scale": {"domain": [-0.548, 0.428], "nice": false, "zero": false}, "axis": {"orient": "left", "title": null, "tickCount": 97, "labelExpr": "abs(round(datum.value*100)) % 10 === 0 ? format(datum.value, '.1~f') : ''", "tickSize": {"condition": {"test": "abs(round(datum.value*100)) % 10 === 0", "value": -13}, "value": -6.5}}}
    }}
  ]}
 ]},
{"width": 438, "height": 217, "resolve": {"scale": {"x": "independent", "y": "independent"}},
 "layer": [
  {"data": {"values": [{}]}, "layer": [
   {"mark": {"type": "rect", "filled": false, "stroke": "#ffffff", "strokeWidth": 2}, "encoding": {"x": {"datum": -0.1164, "type": "quantitative", "scale": {"domain": [0, 1], "nice": false}, "axis": null}, "x2": {"datum": 1.121}, "y": {"datum": -0.106, "type": "quantitative", "scale": {"domain": [0, 1], "nice": false}, "axis": null}, "y2": {"datum": 1.12}}},
   {"mark": {"type": "rule", "stroke": "#a3a3a3", "strokeWidth": 3}, "encoding": {"x": {"datum": -0.1164, "type": "quantitative"}, "x2": {"datum": 1.121}, "y": {"datum": -0.106, "type": "quantitative"}}},
   {"mark": {"type": "rule", "stroke": "#a3a3a3", "strokeWidth": 3}, "encoding": {"x": {"datum": 1.121, "type": "quantitative"}, "y": {"datum": -0.106, "type": "quantitative"}, "y2": {"datum": 1.12}}},
   {"mark": {"type": "rect", "fill": "black"}, "encoding": {"x": {"datum": -0.102, "type": "quantitative"}, "x2": {"datum": 0.055}, "y": {"datum": 1.042, "type": "quantitative"}, "y2": {"datum": 1.106}}},
   {"mark": {"type": "rect", "fill": "#f0edf1", "stroke": "black", "strokeWidth": 1.2}, "encoding": {"x": {"datum": -0.107, "type": "quantitative"}, "x2": {"datum": 0.05}, "y": {"datum": 1.051, "type": "quantitative"}, "y2": {"datum": 1.115}}},
   {"mark": {"type": "text", "text": "Graph", "font": "Liberation Sans", "fontSize": 8, "fontWeight": "bold", "align": "center", "baseline": "middle", "color": "black"}, "encoding": {"x": {"datum": -0.0285, "type": "quantitative"}, "y": {"datum": 1.083, "type": "quantitative"}}}
  ]},
  {"layer": [
   {"data": {"values": [{}]}, "mark": {"type": "rule", "color": "black", "strokeWidth": 1.5}, "encoding": {"y": {"datum": 0, "type": "quantitative"}}},
   {"data": {"name": "p10"}, "mark": {"type": "line", "color": "#0000ff", "strokeWidth": 9, "strokeCap": "square", "strokeJoin": "round"},
    "encoding": {
     "x": {"field": "x", "type": "quantitative", "scale": {"domain": [0, 1973], "nice": false}, "axis": {"orient": "bottom", "title": null, "values": [0,50,100,150,200,250,300,350,400,450,500,550,600,650,700,750,800,850,900,950,1000,1050,1100,1150,1200,1250,1300,1350,1400,1450,1500,1550,1600,1650,1700,1750,1800,1850,1900,1950], "labelExpr": "datum.value % 200 === 0 ? format(datum.value, 'd') : ''", "tickSize": {"condition": {"test": "datum.value % 200 === 0", "value": -6.5}, "value": -3.3}}},
     "y": {"field": "y", "type": "quantitative", "scale": {"domain": [-0.493, 0.457], "nice": false, "zero": false}, "axis": {"orient": "left", "title": null, "tickCount": 94, "labelExpr": "abs(round(datum.value*100)) % 10 === 0 ? format(datum.value, '.1~f') : ''", "tickSize": {"condition": {"test": "abs(round(datum.value*100)) % 10 === 0", "value": -13}, "value": -6.5}}}
    }}
  ]}
 ]}
],
"config": {
 "view": {"fill": "#f0edf1", "stroke": "black", "strokeWidth": 1.5},
 "axis": {"domain": false, "grid": false, "labelFont": "Liberation Sans", "labelFontSize": 8, "labelFontWeight": "bold", "labelColor": "black", "tickColor": "black", "tickWidth": 1, "labelOverlap": false, "labelFlush": false, "labelBound": false},
 "axisX": {"labelPadding": 10},
 "axisY": {"labelPadding": 19}
}
}
